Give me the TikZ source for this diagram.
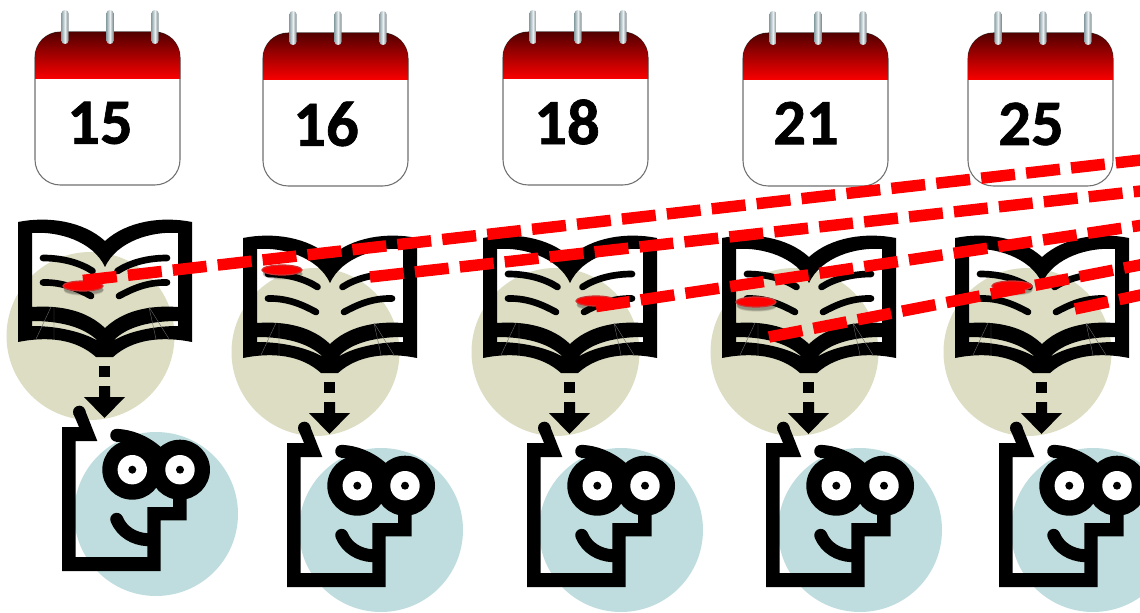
\documentclass[tikz,border=0pt]{standalone}
\usepackage{fontspec}
\setmainfont{Carlito}
\usetikzlibrary{positioning,shapes.geometric,shadows}
\definecolor{bookbg}{HTML}{DDDDC3}
\definecolor{readbg}{HTML}{BFDDDE}
\definecolor{hdrdark}{HTML}{520000}
\definecolor{hdrred}{HTML}{FA0000}
\definecolor{ringl}{HTML}{8FA3A8}
\definecolor{ringm}{HTML}{E9EEF0}
\definecolor{edgec}{HTML}{707070}
\tikzset{
  calendar/.pic={
    \draw[edgec,fill=white,line width=.8pt,rounded corners=19pt] (0,0) rectangle (145,153);
    \fill[top color=hdrdark,bottom color=hdrred] (0,47) [rounded corners=19pt] -- (0,0) -- (145,0)
      [sharp corners] -- (145,47) -- cycle;
    \foreach \rx in {30,75,120}
      \shade[left color=ringl,right color=ringl!80!black,middle color=ringm,rounded corners=2.6pt]
        (\rx-3.6,-22) rectangle (\rx+3.6,12);
  },
  bookicon/.pic={
    \fill[black,even odd rule]
      (0,3) .. controls (30,-3) and (65,2) .. (87,22) .. controls (109,2) and (144,-3) .. (174,3)
      -- (174,123) .. controls (144,117) and (115,120) .. (95,138) -- (78,138)
      .. controls (58,120) and (30,117) .. (0,123) -- cycle
      (14,14) .. controls (40,12) and (75,22) .. (87,48) .. controls (99,22) and (134,12) .. (160,14)
      -- (160,88) .. controls (130,86) and (105,92) .. (87,109) .. controls (69,92) and (44,86) .. (14,88) -- cycle
      (14,102) .. controls (40,102) and (65,107) .. (80,122) .. controls (65,113) and (40,107) .. (14,107) -- cycle
      (160,102) .. controls (134,102) and (109,107) .. (95,122) .. controls (109,113) and (134,107) .. (160,107) -- cycle;
    \draw[line width=5pt,line cap=round]
      (25,39) .. controls (45,39) and (62,44) .. (74.5,52)
      (25,63.5) .. controls (45,63) and (60,70) .. (73,77)
      (149,39) .. controls (129,39) and (112,44) .. (99.5,52)
      (149,63.5) .. controls (129,63) and (114,70) .. (101,77);
    \draw[black!60!white,line width=.3pt]
      (33,88) -- (18,120) (36,88) -- (36,120) (131,88) -- (138,120) (131,88) -- (151,120);
    % dashed arrow under the book
    \fill (81,147) rectangle (92,158);
    \fill (81,167) -- (92,167) -- (92,178) -- (107,178) -- (86.5,199) -- (66,178) -- (81,178) -- cycle;
  },
  readericon/.pic={
    \fill (0,0) -- (0,144) -- (98.7,144) -- (98.7,93.3) -- (124.7,93.3) -- (124.7,60) -- (111,60)
      -- (111,80) -- (85.3,80) -- (85.3,130) -- (13.7,130) -- (13.7,14) -- (35.3,14)
      -- (23,-17) -- (11.5,-13) -- (17,0) -- cycle;
    \fill (17.3,-15) circle (6.3);
    \draw[line width=9.7pt,line cap=round] (54.7,8.3) .. controls (68,9) and (82,14) .. (94.7,25);
    \draw[line width=9.7pt,line cap=round] (54.7,92.3) .. controls (60,105) and (72,112) .. (85.3,112.7);
    \foreach \ex in {70.3,118}{
      \fill (\ex,42.7) circle (30);
      \fill[white] (\ex,42.7) circle (14.7);
      \fill (\ex,42.7) circle (4);
    }
  }
}
\begin{document}
\begin{tikzpicture}[x=.75pt,y=-.75pt,
  num/.style={font=\bfseries\fontsize{48.5}{48.5}\selectfont\addfontfeature{FakeBold=1},inner sep=0pt},
  redmark/.style={ellipse,draw=red!60!gray,line width=.9pt,fill=red,inner sep=0pt,
    minimum width=30pt,minimum height=7.5pt,
    general shadow={fill=black,opacity=.1,shadow xshift=.5pt,shadow yshift=-3.5pt,scale=1.25},
    general shadow={fill=black,opacity=.12,shadow xshift=.5pt,shadow yshift=-3pt,scale=1.12},
    general shadow={fill=black,opacity=.15,shadow xshift=.5pt,shadow yshift=-2.5pt}},
  reddash/.style={red,line width=8.6pt,dash pattern=on 25.5pt off 8.4pt}]
  \path[use as bounding box,clip] (0,0) rectangle (1140,613);
  % calendars
  \foreach \cx/\cy in {35/32,263/33,503/32,743/33,968/33}
    \pic at (\cx,\cy) {calendar};
  \node[num] (n15) at (100,123) {15};
  \node[num] (n16) at (326,124) {16};
  \node[num] (n18) at (567,122) {18};
  \node[num] (n21) at (806,123) {21};
  \node[num] (n25) at (1031,124) {25};
  % books and readers
  \foreach \bx/\by in {18/219,243/235,483/235,722/235,955/235}{
    \fill[bookbg] (\bx+72.5,\by+117) circle (84);
    \fill[readbg] (\bx+138,\by+295) circle (82);
    \pic at (\bx,\by) {bookicon};
    \pic at (\bx+44,\by+208) {readericon};
  }
  \node[redmark] (m1) at (83,286) {};
  \node[redmark] (m2) at (282,270) {};
  \node[redmark] (m3) at (596,301) {};
  \node[redmark] (m4) at (756,302) {};
  \node[redmark] (m5) at (1012,286) {};
  \coordinate (s2) at (370,277);
  \coordinate (s4) at (769,337);
  \coordinate (s5) at (1075,309);
  \coordinate (e1) at (1150,159);
  \coordinate (e2) at (1150,190);
  \coordinate (e3) at (1150,224);
  \coordinate (e4) at (1150,263);
  \coordinate (e5) at (1150,293);
  \draw[reddash] (m1.north) -- (e1);
  \draw[reddash] (s2) -- (e2);
  \draw[reddash] (m3.south) -- (e3);
  \draw[reddash] (s4) -- (e4);
  \draw[reddash] (s5) -- (e5);
\end{tikzpicture}
\end{document}
